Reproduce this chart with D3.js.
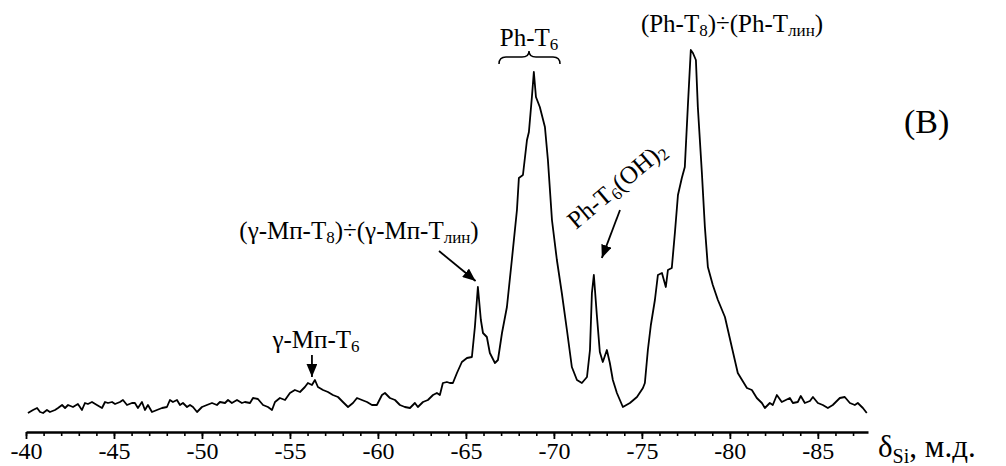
<!DOCTYPE html>
<html>
<head>
<meta charset="utf-8">
<script src="https://cdn.jsdelivr.net/npm/d3@7"></script>
<style>
body { margin: 0; background: #fff; }
text { font-family: 'Liberation Serif', serif; }
</style>
</head>
<body>
<div id="chart"></div>
<script>
// 29Si spectrum, chemical shift in ppm (м.д.) and intensity (arb. units)
var shift = [-40.11,-40.40,-40.63,-40.80,-40.97,-41.19,-41.36,-41.65,-41.82,-42.05,
  -42.22,-42.39,-42.67,-42.95,-43.18,-43.35,-43.52,-43.75,-44.03,-44.32,
  -44.49,-44.66,-44.89,-45.06,-45.34,-45.51,-45.74,-46.02,-46.19,-46.36,
  -46.59,-46.76,-46.93,-47.16,-47.44,-47.73,-48.01,-48.18,-48.35,-48.58,
  -48.75,-48.92,-49.15,-49.32,-49.49,-49.72,-50.00,-50.28,-50.57,-50.85,
  -51.02,-51.31,-51.48,-51.70,-51.99,-52.27,-52.44,-52.73,-52.90,-53.18,
  -53.47,-53.75,-53.98,-54.15,-54.43,-54.72,-55.00,-55.28,-55.57,-55.85,
  -56.02,-56.25,-56.42,-56.59,-56.88,-57.16,-57.44,-57.73,-58.01,-58.30,
  -58.58,-58.81,-59.09,-59.38,-59.66,-59.94,-60.23,-60.40,-60.68,-60.97,
  -61.25,-61.53,-61.82,-62.10,-62.27,-62.56,-62.84,-63.13,-63.35,-63.52,
  -63.69,-63.92,-64.09,-64.26,-64.49,-64.77,-65.06,-65.34,-65.51,-65.68,
  -65.85,-65.97,-66.19,-66.36,-66.65,-66.82,-67.05,-67.33,-67.61,-67.90,
  -68.01,-68.24,-68.47,-68.58,-68.75,-68.86,-68.98,-69.20,-69.49,-69.66,
  -69.89,-70.17,-70.45,-70.74,-71.02,-71.31,-71.59,-71.88,-72.05,-72.16,
  -72.27,-72.44,-72.61,-72.78,-73.01,-73.18,-73.35,-73.58,-73.75,-73.92,
  -74.32,-74.72,-75.06,-75.17,-75.34,-75.51,-75.74,-75.91,-76.14,-76.36,
  -76.48,-76.70,-76.88,-77.05,-77.27,-77.44,-77.61,-77.78,-77.90,-78.07,
  -78.18,-78.41,-78.58,-78.75,-79.03,-79.32,-79.72,-80.11,-80.45,-80.97,
  -81.25,-81.53,-81.82,-81.99,-82.27,-82.44,-82.67,-82.95,-83.41,-83.58,
  -83.86,-84.03,-84.26,-84.55,-84.72,-85.00,-85.28,-85.57,-85.85,-86.25,
  -86.53,-86.82,-87.10,-87.27,-87.56,-87.78];

var intensity = [2,5,7,3,2,5,3,5,7,10,
  7,10,8,11,5,12,11,13,10,7,
  13,12,13,11,13,15,10,12,12,7,
  13,5,10,3,5,7,8,15,13,15,
  10,12,8,10,8,3,8,10,12,10,
  13,12,15,12,15,12,13,12,17,16,
  10,8,5,13,17,15,22,25,23,28,
  32,30,35,28,25,23,20,18,13,8,
  12,17,15,13,10,10,20,22,17,15,
  10,8,7,12,8,13,15,20,22,20,
  32,33,32,32,42,53,57,58,88,128,
  95,82,78,62,52,55,82,108,155,205,
  237,240,275,283,318,343,318,308,288,255,
  195,155,122,85,48,35,32,38,65,122,
  140,100,63,53,65,52,35,22,15,8,
  12,18,27,32,65,90,115,140,142,128,
  145,147,183,220,237,248,308,365,362,355,
  308,242,188,148,130,115,98,68,42,27,
  25,17,12,7,12,10,20,13,17,12,
  13,19,12,14,18,12,10,7,10,17,
  18,12,10,12,7,2];

var majorTicks = [-40,-45,-50,-55,-60,-65,-70,-75,-80,-85];
var minorTicks = d3.range(-40, -88, -1);

var svg = d3.select("#chart").append("svg")
    .attr("width", 1006).attr("height", 466);

var x = d3.scaleLinear().domain([-40, -87.85]).range([26, 868]);
var y = d3.scaleLinear().domain([0, 370]).range([415, 45]);

var defs = svg.append("defs");
defs.append("marker")
    .attr("id", "arr")
    .attr("markerUnits", "userSpaceOnUse")
    .attr("viewBox", "0 0 12 10")
    .attr("refX", 12).attr("refY", 5)
    .attr("markerWidth", 13).attr("markerHeight", 11)
    .attr("orient", "auto")
  .append("path")
    .attr("d", "M0,0 L12,5 L0,10 Z")
    .attr("fill", "#000");

// diagonal baseline for the tilted label (about 40 degrees)
defs.append("path")
    .attr("id", "diag")
    .attr("d", "M576,230 L699,127");

// axis: minor ticks every 1, major every 5
var axisY = 432;
svg.append("g")
    .attr("transform", "translate(0," + axisY + ")")
    .call(d3.axisBottom(x).tickValues(minorTicks).tickSize(4).tickSizeOuter(0).tickFormat(""))
    .call(function(g) { g.select(".domain").remove(); })
    .selectAll("line").attr("stroke-width", 1.6);

var ax = svg.append("g")
    .attr("transform", "translate(0," + axisY + ")")
    .call(d3.axisBottom(x).tickValues(majorTicks).tickSize(7).tickSizeOuter(0)
        .tickFormat(function(d) { return "-" + Math.abs(d); }));
ax.select(".domain").attr("stroke-width", 2.4);
ax.selectAll("line").attr("stroke-width", 1.8);
ax.selectAll("text")
    .style("font-size", "24px")
    .style("font-family", "'Liberation Serif'")
    .attr("fill", "#000");

// spectrum
var pts = shift.map(function(s, i) { return [s, intensity[i]]; });
var line = d3.line()
    .x(function(d) { return x(d[0]); })
    .y(function(d) { return y(d[1]); });

svg.append("path")
    .datum(pts)
    .attr("d", line)
    .attr("fill", "none")
    .attr("stroke", "#000")
    .attr("stroke-width", 1.8)
    .attr("stroke-linejoin", "round");

// axis title
var t = svg.append("text").attr("x", 878).attr("y", 457).style("font-size", "31px");
t.append("tspan").text("δ");
t.append("tspan").style("font-size", "20px").attr("dy", 6).text("Si");
t.append("tspan").attr("dy", -6).text(", м.д.");

svg.append("text").attr("x", 904).attr("y", 133).style("font-size", "34px").text("(В)");

// text with subscripts
function label(el, parts, size) {
  el.style("font-size", size + "px");
  var sub = false;
  parts.forEach(function(p) {
    var ts = el.append("tspan").text(p[0]);
    if (p[1]) {
      ts.style("font-size", Math.round(size * 0.68) + "px");
      if (!sub) { ts.attr("dy", 4); sub = true; }
    } else if (sub) { ts.attr("dy", -4); sub = false; }
  });
  return el;
}

var fs = 25;

label(svg.append("text").attr("x", 529).attr("y", 46).attr("text-anchor", "middle"),
    [["Ph-T"], ["6", 1]], fs);
svg.append("path")
    .attr("d", "M499,64 Q499,57 506,57 L522,57 Q529,57 529,51 Q529,57 536,57 L553,57 Q560,57 560,64")
    .attr("fill", "none").attr("stroke", "#000").attr("stroke-width", 1.5);

label(svg.append("text").attr("x", 732).attr("y", 32).attr("text-anchor", "middle"),
    [["(Ph-T"], ["8", 1], [")÷(Ph-T"], ["лин", 1], [")"]], fs);

label(svg.append("text").attr("x", 359).attr("y", 239).attr("text-anchor", "middle"),
    [["(γ-Мп-T"], ["8", 1], [")÷(γ-Мп-T"], ["лин", 1], [")"]], fs);
svg.append("line")
    .attr("x1", 439).attr("y1", 251).attr("x2", x(-65.55)).attr("y2", 281)
    .attr("stroke", "#000").attr("stroke-width", 1.8).attr("marker-end", "url(#arr)");

// tilted label laid along the diagonal path
var tilted = svg.append("text").style("font-size", fs + "px")
  .append("textPath").attr("href", "#diag");
tilted.append("tspan").text("Ph-T");
tilted.append("tspan").style("font-size", "17px").attr("dy", 4).text("6");
tilted.append("tspan").attr("dy", -4).text("(OH)");
tilted.append("tspan").style("font-size", "17px").attr("dy", 4).text("2");
svg.append("line")
    .attr("x1", 620).attr("y1", 210).attr("x2", x(-72.27) + 8).attr("y2", 258)
    .attr("stroke", "#000").attr("stroke-width", 1.8).attr("marker-end", "url(#arr)");

label(svg.append("text").attr("x", 316).attr("y", 348).attr("text-anchor", "middle"),
    [["γ-Мп-T"], ["6", 1]], fs);
svg.append("line")
    .attr("x1", x(-56.25)).attr("y1", 355).attr("x2", x(-56.25)).attr("y2", 377)
    .attr("stroke", "#000").attr("stroke-width", 1.8).attr("marker-end", "url(#arr)");
</script>
</body>
</html>
